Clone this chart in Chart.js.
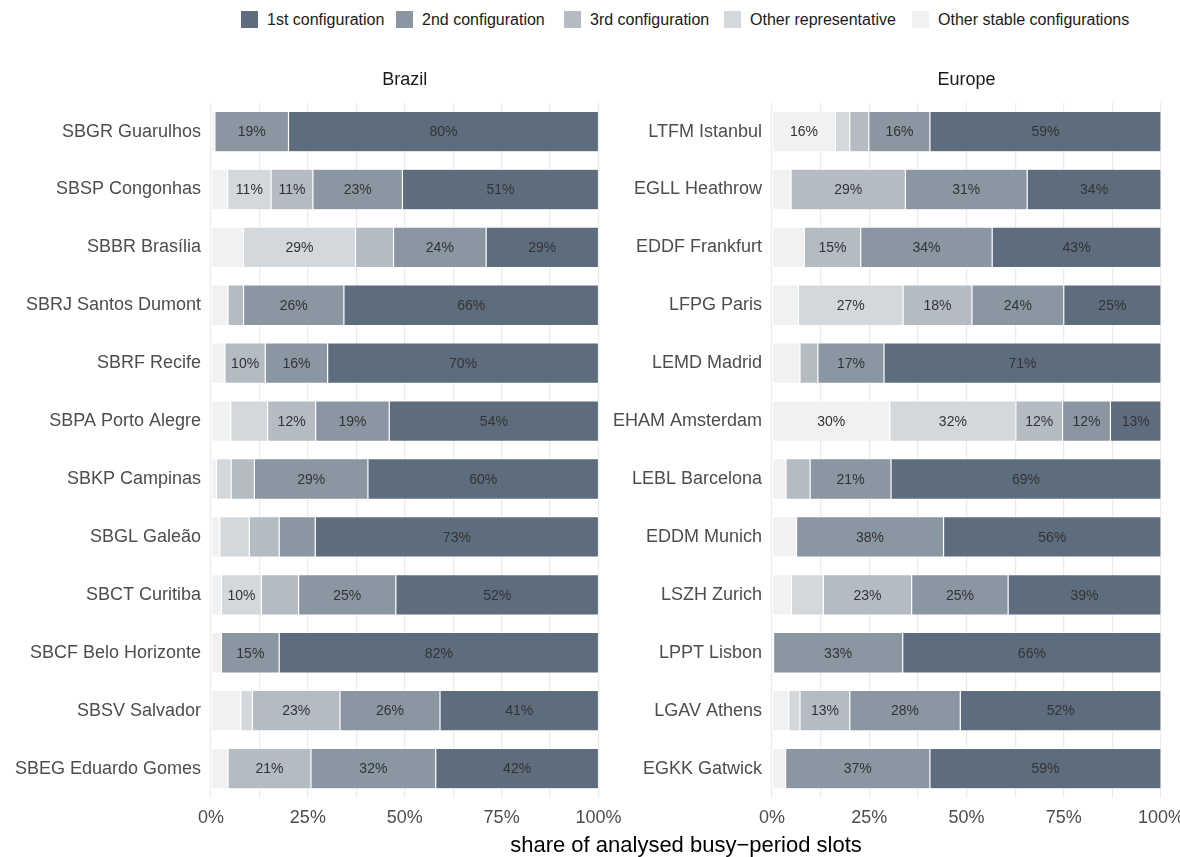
<!DOCTYPE html>
<html>
<head>
<meta charset="utf-8">
<script src="https://cdn.jsdelivr.net/npm/chart.js@4.4.1/dist/chart.umd.min.js"></script>
<style>
  html, body { margin:0; padding:0; background:#ffffff; }
  body { width:1180px; height:857px; overflow:hidden; position:relative;
         font-family:"Liberation Sans", Arial, Helvetica, sans-serif; }
  canvas { position:absolute; }
  .leg { position:absolute; top:10px; height:19px; display:flex; align-items:center;
         font-size:16px; color:#1a1a1a; white-space:nowrap; }
  .sw { width:17px; height:17px; display:inline-block; }
  #xtitle { position:absolute; left:211px; width:950px; top:832px; text-align:center;
            font-size:22px; line-height:26px; color:#000; }
</style>
</head>
<body>
<div id="legend"></div>
<canvas id="cBrazil" width="660" height="800" style="left:0px;top:60px;width:660px;height:800px"></canvas>
<canvas id="cEurope" width="580" height="800" style="left:600px;top:60px;width:580px;height:800px"></canvas>
<div id="xtitle">share of analysed busy−period slots</div>
<script>
// ---------- data ----------
const seriesNames = ['Other stable configurations', 'Other representative', '3rd configuration', '2nd configuration', '1st configuration'];
const seriesColors = ['#eff1f3', '#d3d8dc', '#b4bbc3', '#8a96a2', '#5e6d7e'];
const xTickValues = [0, 25, 50, 75, 100];
const panelTitles = ['Brazil', 'Europe'];
const axisTitle = 'share of analysed busy−period slots';

const brazilAirports = ['SBGR Guarulhos', 'SBSP Congonhas', 'SBBR Brasília', 'SBRJ Santos Dumont', 'SBRF Recife', 'SBPA Porto Alegre', 'SBKP Campinas', 'SBGL Galeão', 'SBCT Curitiba', 'SBCF Belo Horizonte', 'SBSV Salvador', 'SBEG Eduardo Gomes'];
const brazilOtherStable = [1.0, 4.3, 8.4, 4.4, 3.6, 5.1, 1.4, 2.3, 2.7, 2.7, 7.7, 4.4];
const brazilOtherRep    = [0, 11.2, 28.9, 0, 0, 9.5, 3.8, 7.6, 10.3, 0, 3.0, 0];
const brazil3rd         = [0, 10.8, 9.8, 4.0, 10.4, 12.4, 6.0, 7.7, 9.6, 0, 22.6, 21.4];
const brazil2nd         = [19.0, 23.1, 23.9, 25.9, 16.1, 19.0, 29.3, 9.3, 25.1, 14.9, 25.8, 32.2];
const brazil1st         = [80.0, 50.6, 29.0, 65.7, 69.9, 54.0, 59.5, 73.1, 52.3, 82.4, 40.9, 42.0];

const europeAirports = ['LTFM Istanbul', 'EGLL Heathrow', 'EDDF Frankfurt', 'LFPG Paris', 'LEMD Madrid', 'EHAM Amsterdam', 'LEBL Barcelona', 'EDDM Munich', 'LSZH Zurich', 'LPPT Lisbon', 'LGAV Athens', 'EGKK Gatwick'];
const europeOtherStable = [16.3, 4.9, 8.3, 6.8, 7.2, 30.3, 3.6, 6.3, 5.0, 0.4, 4.3, 3.5];
const europeOtherRep    = [3.7, 0, 0, 26.9, 0, 32.4, 0, 0, 8.2, 0, 2.9, 0];
const europe3rd         = [4.9, 29.4, 14.5, 17.7, 4.6, 12.0, 6.2, 0, 22.7, 0, 12.8, 0];
const europe2nd         = [15.7, 31.3, 33.8, 23.6, 17.0, 12.3, 20.8, 37.8, 24.8, 33.2, 28.4, 37.1];
const europe1st         = [59.4, 34.4, 43.4, 25.0, 71.2, 13.0, 69.4, 55.9, 39.3, 66.4, 51.6, 59.4];

// ---------- style ----------
const FONT = '"Liberation Sans", Arial, Helvetica, sans-serif';
const legendOrder = [4, 3, 2, 1, 0];
const legendSwatchLeft = [241, 396, 564, 724, 912];
const legendTextGap = 9;

// legend (HTML)
const legendEl = document.getElementById('legend');
legendOrder.forEach((si, k) => {
  const d = document.createElement('div');
  d.className = 'leg';
  d.style.left = legendSwatchLeft[k] + 'px';
  const sw = document.createElement('span');
  sw.className = 'sw';
  sw.style.background = seriesColors[si];
  sw.style.marginRight = legendTextGap + 'px';
  const t = document.createElement('span');
  t.textContent = seriesNames[si];
  d.appendChild(sw); d.appendChild(t);
  legendEl.appendChild(d);
});
document.getElementById('xtitle').textContent = axisTitle;

// bar value labels
const valueLabels = {
  id: 'valueLabels',
  afterDatasetsDraw(chart) {
    const ctx = chart.ctx;
    ctx.save();
    ctx.font = '14px ' + FONT;
    ctx.fillStyle = '#333333';
    ctx.textAlign = 'center';
    ctx.textBaseline = 'middle';
    chart.data.datasets.forEach((ds, di) => {
      const meta = chart.getDatasetMeta(di);
      meta.data.forEach((el, i) => {
        const v = ds.data[i];
        if (v >= 10) {
          const x = (el.x + el.base) / 2;
          ctx.fillText(Math.round(v) + '%', x, el.y + 1);
        }
      });
    });
    ctx.restore();
  }
};

function makeChart(id, title, labels, series, yWidth, padRight) {
  const datasets = series.map((arr, si) => ({
    label: seriesNames[si],
    data: arr,
    backgroundColor: seriesColors[si],
    borderColor: '#ffffff',
    borderWidth: 0.6,
    borderSkipped: false,
    barPercentage: 0.7,
    categoryPercentage: 1.0
  }));
  return new Chart(document.getElementById(id), {
    type: 'bar',
    data: { labels: labels, datasets: datasets },
    plugins: [valueLabels],
    options: {
      indexAxis: 'y',
      responsive: false,
      animation: false,
      devicePixelRatio: 1,
      layout: { padding: { left: 0, right: padRight, top: 0, bottom: 0 } },
      plugins: {
        legend: { display: false },
        tooltip: { enabled: false },
        title: {
          display: true, text: title, fullSize: false,
          color: '#1a1a1a', font: { size: 18, family: FONT, weight: 'normal' },
          padding: { top: 9, bottom: 12 }
        }
      },
      scales: {
        x: {
          stacked: true, min: 0, max: 100,
          border: { display: false },
          grid: { color: '#ebebeb', lineWidth: 1.2, drawTicks: false, tickLength: 0 },
          ticks: {
            stepSize: 12.5, autoSkip: false, maxRotation: 0,
            padding: 10, color: '#4d4d4d', font: { size: 18, family: FONT },
            callback: (v) => xTickValues.includes(v) ? v + '%' : ''
          },
          afterFit: (s) => { s.height = 62.5; s.paddingLeft = 0; s.paddingRight = 0; }
        },
        y: {
          stacked: true,
          border: { display: false },
          grid: { display: false, drawTicks: false, tickLength: 0 },
          ticks: { padding: 10, color: '#4d4d4d', font: { size: 18, family: FONT }, autoSkip: false },
          afterFit: (s) => { s.width = yWidth; s.paddingTop = 0; s.paddingBottom = 0; }
        }
      }
    }
  });
}

makeChart('cBrazil', panelTitles[0], brazilAirports,
  [brazilOtherStable, brazilOtherRep, brazil3rd, brazil2nd, brazil1st], 211, 61.5);
makeChart('cEurope', panelTitles[1], europeAirports,
  [europeOtherStable, europeOtherRep, europe3rd, europe2nd, europe1st], 172, 19);
</script>
</body>
</html>
